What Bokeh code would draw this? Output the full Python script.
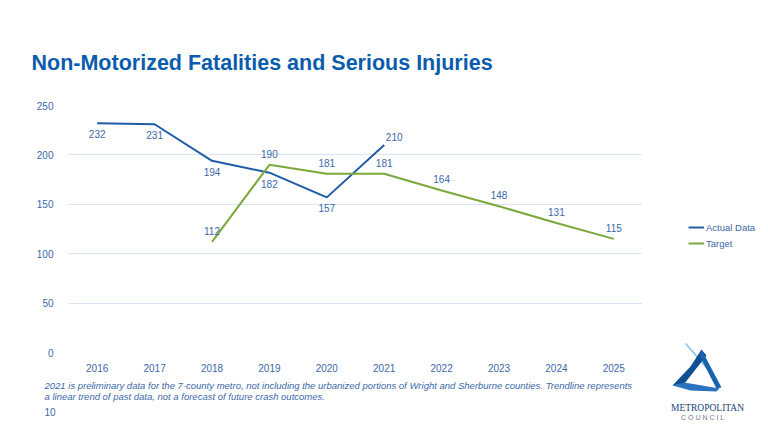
from bokeh.plotting import figure
from bokeh.models import (ColumnDataSource, Legend, LegendItem, FactorRange, Range1d, FixedTicker, Title)
from bokeh.layouts import column, row
from bokeh.core.properties import value
from bokeh.embed import file_html
from bokeh.resources import INLINE

# ---- data ----
years = ["2016", "2017", "2018", "2019", "2020", "2021", "2022", "2023", "2024", "2025"]
actual_years = ["2016", "2017", "2018", "2019", "2020", "2021"]
actual_values = [232, 231, 194, 182, 157, 210]
target_years = ["2018", "2019", "2020", "2021", "2022", "2023", "2024", "2025"]
target_values = [112, 190, 181, 181, 164, 148, 131, 115]
y_ticks = [0, 50, 100, 150, 200, 250]
series_names = ["Actual Data", "Target"]

title_text = "Non-Motorized Fatalities and Serious Injuries"
note_line1 = ("2021 is preliminary data for the 7-county metro, not including the urbanized portions "
              "of Wright and Sherburne counties. Trendline represents")
note_line2 = "a linear trend of past data, not a forecast of future crash outcomes."
page_no = "10"

# ---- styles ----
FONT = "Liberation Sans"
BLUE = "#1f5ca8"
GREEN = "#7aa83b"
TXT = "#3c68a8"
TITLE_C = "#0b5cad"
GRID = "#d9e5f4"

W, H = 768, 432
HEAD_H = 90
MAIN_W = 670
FL, FT, FB = 68, 15, 80
FW, FH = 574, 247
RIGHT_W = W - MAIN_W


def canvas(w, h, x0, x1, y0, y1):
    f = figure(width=w, height=h, x_range=Range1d(x0, x1), y_range=Range1d(y1, y0),
               min_border=0, x_axis_type=None, y_axis_type=None,
               output_backend="svg", toolbar_location=None, tools="")
    f.outline_line_color = None
    f.background_fill_color = "white"
    f.border_fill_color = "white"
    return f


# ---- header with title ----
head = canvas(W, HEAD_H, 0, W, 0, HEAD_H)
head.text(x=[31], y=[62], text=[title_text], text_font=value(FONT), text_font_style="bold",
          text_font_size="21.5px", text_color=TITLE_C, text_baseline="alphabetic", text_align="left")

# ---- main chart ----
p = figure(x_range=FactorRange(factors=years), y_range=Range1d(0, 250),
           frame_width=FW, frame_height=FH,
           min_border_left=FL, min_border_right=MAIN_W - FL - FW,
           min_border_top=FT, min_border_bottom=FB,
           output_backend="svg", toolbar_location=None, tools="")
p.outline_line_color = None
p.background_fill_color = "white"
p.border_fill_color = "white"
p.xgrid.grid_line_color = None
p.ygrid.grid_line_color = GRID
p.yaxis.ticker = FixedTicker(ticks=y_ticks)
for ax in (p.xaxis[0], p.yaxis[0]):
    ax.axis_line_color = None
    ax.major_tick_line_color = None
    ax.minor_tick_line_color = None
    ax.major_label_text_color = TXT
    ax.major_label_text_font = FONT
    ax.major_label_text_font_size = "10px"
p.yaxis.major_label_standoff = 9
p.xaxis.major_label_standoff = 5

src_a = ColumnDataSource(dict(x=actual_years, y=actual_values, t=[str(v) for v in actual_values]))
src_t = ColumnDataSource(dict(x=target_years, y=target_values, t=[str(v) for v in target_values]))

p.line("x", "y", source=src_a, line_color=BLUE, line_width=2)
p.line("x", "y", source=src_t, line_color=GREEN, line_width=2)

# labels: actual below points (last one above-right); target above points
n_a = len(actual_values)
src_a.data["dx"] = [0] * (n_a - 1) + [10]
src_a.data["dy"] = [11] * (n_a - 1) + [-8]
p.text("x", "y", text="t", source=src_a, x_offset="dx", y_offset="dy",
       text_align="center", text_baseline="middle", text_color=TXT,
       text_font=value(FONT), text_font_size="10px")
p.text("x", "y", text="t", source=src_t, y_offset=-11,
       text_align="center", text_baseline="middle", text_color=TXT,
       text_font=value(FONT), text_font_size="10px")

# footnotes below the axis
p.add_layout(Title(text=note_line1 + "\n" + note_line2, align="left", offset=44 - FL, standoff=6,
                   text_font=FONT, text_font_style="italic", text_font_size="9.5px",
                   text_line_height=1.0, text_color=TXT), "below")
p.add_layout(Title(text=page_no, align="left", offset=44 - FL, standoff=2,
                   text_font=FONT, text_font_style="normal", text_font_size="10px",
                   text_color=TXT), "below")

# ---- right column: legend + logo ----
right = canvas(RIGHT_W, H - HEAD_H, MAIN_W, W, HEAD_H, H)
nan = float("nan")
la = right.line(x=[nan], y=[nan], line_color=BLUE, line_width=2)
lt = right.line(x=[nan], y=[nan], line_color=GREEN, line_width=2)
legend = Legend(items=[LegendItem(label=series_names[0], renderers=[la]),
                       LegendItem(label=series_names[1], renderers=[lt])],
                location=(18, 183), orientation="vertical",
                glyph_width=16, glyph_height=12, label_standoff=2, spacing=4,
                padding=0, margin=0, label_height=12,
                label_text_font=FONT, label_text_font_size="9.5px",
                label_text_color=TXT, border_line_alpha=0, background_fill_alpha=0)
right.add_layout(legend, "center")

# logo (decorative)
right.patch([684, 686, 712, 710], [343, 343, 372, 373], fill_color="#8cc3ec", line_color=None)
right.patch([701, 706, 684, 672, 690], [349, 355, 383, 385, 366], fill_color="#0f4f94", line_color=None)
right.patch([672, 684, 719, 716, 690], [385, 382, 388, 391, 390], fill_color="#2a74bf", line_color=None)
right.patch([701, 721, 716, 699], [349, 387, 388, 355], fill_color="#1a63ad", line_color=None)
right.text(x=[707], y=[407], text=["METROPOLITAN"], text_font=value("Liberation Serif"),
           text_font_size="9.5px", text_align="center", text_color="#1c3f7a",
           text_baseline="alphabetic")
right.text(x=[708], y=[417], text=["C  O  U  N  C  I  L"], text_font=value(FONT),
           text_font_size="7px", text_align="center", text_color="#6b7d95",
           text_baseline="alphabetic")

layout = column(head, row(column(p), right, spacing=0), spacing=0)
open("out.html", "w").write(file_html(layout, INLINE))
